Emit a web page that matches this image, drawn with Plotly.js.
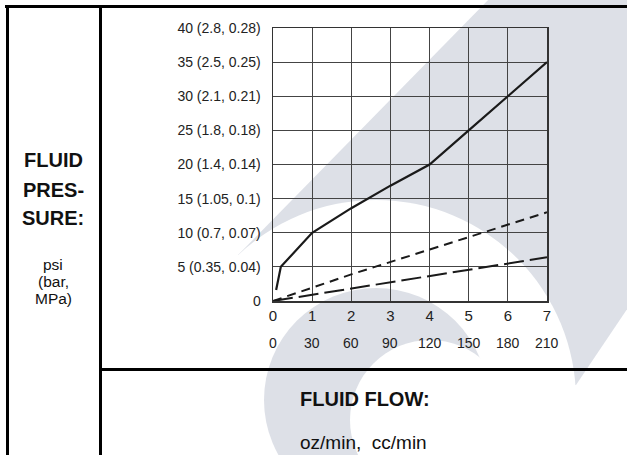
<!DOCTYPE html>
<html><head><meta charset="utf-8">
<script src="https://cdn.plot.ly/plotly-3.0.1.min.js"></script>
<style>html,body{margin:0;padding:0;background:#fff}#chart{width:627px;height:455px}</style>
</head><body><div id="chart"></div>
<script>
// ---- data ----
const flowOz = [0, 1, 2, 3, 4, 5, 6, 7];
const flowCc = ['0', '30', '60', '90', '120', '150', '180', '210'];
const psiTicks = [0, 5, 10, 15, 20, 25, 30, 35, 40];
const psiLabels = ['0', '5 (0.35, 0.04)', '10 (0.7, 0.07)', '15 (1.05, 0.1)', '20 (1.4, 0.14)',
                   '25 (1.8, 0.18)', '30 (2.1, 0.21)', '35 (2.5, 0.25)', '40 (2.8, 0.28)'];
const solidX = [0.08, 0.2, 1, 2, 3, 4, 5, 6, 7];
const solidY = [1.6, 5, 10, 13.6, 16.9, 20, 25, 30, 35];
const shortDashX = [0, 2, 7];
const shortDashY = [0, 3.9, 13];
const longDashX = [0, 7];
const longDashY = [0, 6.4];

// ---- pixel helpers (plot area box) ----
const L = 273, R = 547, T = 28, B = 301;
const px = x => (x - L) / (R - L);
const py = y => (B - y) / (B - T);
const FONT = 'Liberation Sans, Arial, Helvetica, sans-serif';
const WM = '#dde0e7';

const traces = [
  {x: solidX, y: solidY, mode: 'lines', line: {color: '#1a1a1a', width: 2.2}, hoverinfo: 'skip'},
  {x: shortDashX, y: shortDashY, mode: 'lines', line: {color: '#1a1a1a', width: 2, dash: '9px,6px'}, hoverinfo: 'skip'},
  {x: longDashX, y: longDashY, mode: 'lines', line: {color: '#1a1a1a', width: 2, dash: '20px,6px'}, hoverinfo: 'skip'}
];

const ann = [];
flowOz.forEach((v, i) => ann.push({x: v, xref: 'x', y: py(343), yref: 'paper', text: flowCc[i],
  showarrow: false, xanchor: 'center', yanchor: 'middle', font: {family: FONT, size: 14, color: '#222'}}));
const leftBold = [['FLUID', 160], ['PRES-', 190], ['SURE:', 218]];
leftBold.forEach(([t, y]) => ann.push({x: px(53), y: py(y), xref: 'paper', yref: 'paper', text: '<b>' + t + '</b>',
  showarrow: false, xanchor: 'center', yanchor: 'middle', font: {family: FONT, size: 20, color: '#111'}}));
const unitLines = [['psi', 264], ['(bar,', 281], ['MPa)', 298]];
unitLines.forEach(([t, y]) => ann.push({x: px(53), y: py(y), xref: 'paper', yref: 'paper', text: t,
  showarrow: false, xanchor: 'center', yanchor: 'middle', borderpad: 0,
  font: {family: FONT, size: 15.5, color: '#111'}}));
ann.push({x: px(298), y: py(399), xref: 'paper', yref: 'paper', text: '<b>FLUID FLOW:</b>',
  showarrow: false, xanchor: 'left', yanchor: 'middle', font: {family: FONT, size: 20, color: '#111'}});
ann.push({x: px(298), y: py(442), xref: 'paper', yref: 'paper', text: 'oz/min,  cc/min',
  showarrow: false, xanchor: 'left', yanchor: 'middle', font: {family: FONT, size: 19, color: '#111'}});

// ---- background watermark (light logo), pixel geometry ----
const poly = pts => ({type: 'path', xref: 'paper', yref: 'paper', layer: 'below',
  path: 'M' + pts.map(p => px(p[0]) + ',' + py(p[1])).join('L') + 'Z',
  fillcolor: WM, line: {width: 0}});
const disc = (cx, cy, r, col) => ({type: 'circle', xref: 'paper', yref: 'paper', layer: 'below',
  x0: px(cx - r), x1: px(cx + r), y0: py(cy + r), y1: py(cy - r), fillcolor: col, line: {width: 0}});
const wmShapes = [
  poly([[238, 255], [493, -5], [640, -5], [640, 290], [576, 385], [376, 400]]),
  disc(376, 400, 200, '#ffffff'),
  disc(376, 400, 112, WM),
  disc(430, 420, 80, '#ffffff')
];

const ln = (x0, y0, x1, y1, w) => ({type: 'line', xref: 'paper', yref: 'paper',
  x0: px(x0), y0: py(y0), x1: px(x1), y1: py(y1), line: {color: '#000', width: w}});
const shapes = wmShapes.concat([
  ln(5, 6.5, 627, 6.5, 3),
  ln(7.5, 5, 7.5, 455, 3),
  ln(100.5, 5, 100.5, 455, 3),
  ln(100.5, 369.5, 627, 369.5, 3)
]);

const layout = {
  width: 627, height: 455, autosize: false,
  margin: {l: L, r: 627 - R, t: T, b: 455 - B, pad: 0},
  paper_bgcolor: '#fff', plot_bgcolor: 'rgba(0,0,0,0)',
  showlegend: false,
  font: {family: FONT, color: '#222'},
  xaxis: {range: [0, 7], tickvals: flowOz, ticktext: flowOz.map(String), showgrid: true, gridcolor: '#444', gridwidth: 1.2,
    zeroline: false, showline: true, mirror: true, linecolor: '#333', linewidth: 1.5,
    ticks: '', tickfont: {family: FONT, size: 15, color: '#222'}, fixedrange: true},
  yaxis: {range: [0, 40], tickvals: psiTicks, ticktext: psiLabels, showgrid: true, gridcolor: '#444', gridwidth: 1.2,
    zeroline: false, showline: true, mirror: true, linecolor: '#333', linewidth: 1.5,
    ticks: 'outside', ticklen: 8, tickcolor: 'rgba(0,0,0,0)', tickfont: {family: FONT, size: 14, color: '#222'}, fixedrange: true},
  annotations: ann,
  shapes: shapes
};
Plotly.newPlot('chart', traces, layout, {displayModeBar: false, staticPlot: true});
</script>
</body></html>
